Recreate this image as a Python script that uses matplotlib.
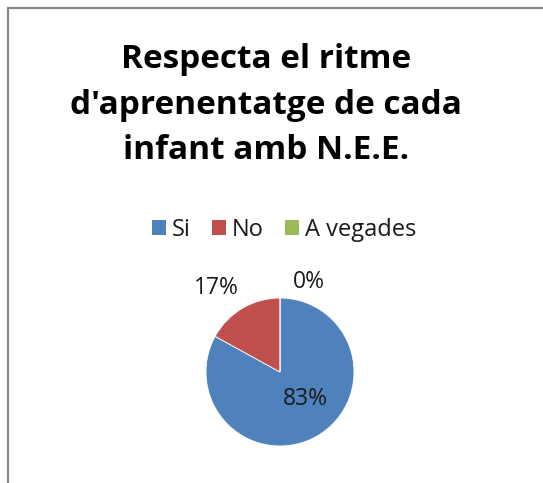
import matplotlib
matplotlib.use("Agg")
import matplotlib.pyplot as plt
from matplotlib.patches import Rectangle

title = "Respecta el ritme\nd'aprenentatge de cada\ninfant amb N.E.E."
categories = ["Si", "No", "A vegades"]
values = [83, 17, 0]
pct_labels = ["83%", "17%", "0%"]
colors = ["#4F81BD", "#C0504D", "#9BBB59"]
# label placement in pie data units (radius = 1)
label_xy = [(0.34, -0.36), (-0.86, 1.13), (0.39, 1.21)]

plt.rcParams["font.family"] = ["Open Sans", "DejaVu Sans"]

fig = plt.figure(figsize=(5.43, 4.83), dpi=100)

# chart frame (only the left and top edges are visible)
fig.add_artist(Rectangle((8 / 543, -0.1), 1.2, 1.1 - 8 / 483,
                         transform=fig.transFigure, fill=False,
                         edgecolor="#888888", linewidth=1.6))

fig.text(266 / 543, 1 - 105 / 483, title, ha="center", va="center", fontsize=24,
         fontweight="bold", linespacing=1.5, color="black")

cx, cy, r = 280, 372, 74
ax = fig.add_axes([(cx - r) / 543, (483 - cy - r) / 483, 2 * r / 543, 2 * r / 483])
ax.pie(values, colors=colors, startangle=90, counterclock=False,
       wedgeprops=dict(edgecolor="white", linewidth=0.6))
ax.set_xlim(-1, 1)
ax.set_ylim(-1, 1)
for txt, (x, y) in zip(pct_labels, label_xy):
    ax.text(x, y, txt, ha="center", va="center", fontsize=16.5, color="#1a1a1a")

handles = [Rectangle((0, 0), 1, 1, facecolor=c, edgecolor="none") for c in colors]
fig.legend(handles, categories, loc="center", bbox_to_anchor=(284 / 543, 1 - 230 / 483),
           ncol=3, frameon=False, fontsize=17, handlelength=0.6, handleheight=0.6,
           handletextpad=0.25, columnspacing=0.9, labelcolor="#1a1a1a")

fig.savefig("out.png", dpi=100)
